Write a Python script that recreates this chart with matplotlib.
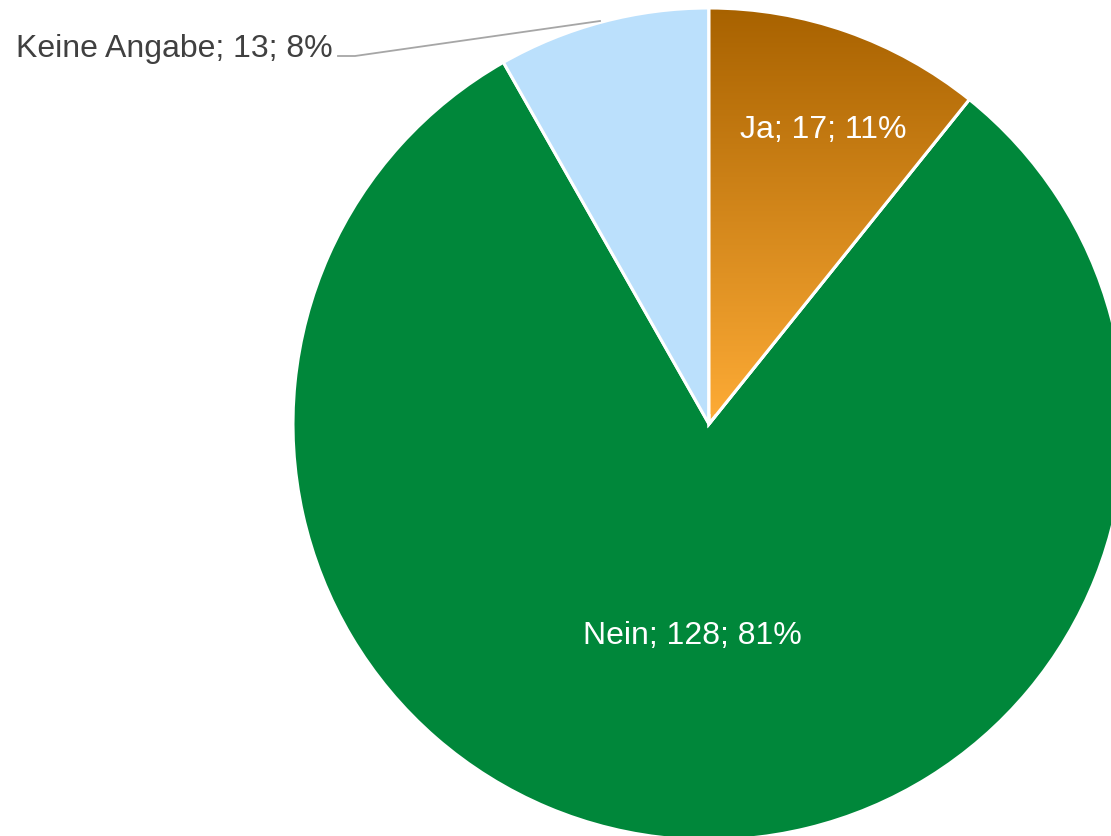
import numpy as np
import matplotlib.pyplot as plt
from matplotlib.colors import LinearSegmentedColormap

labels = ["Ja", "Nein", "Keine Angabe"]
counts = [17, 128, 13]
colors = ["#B06A10", "#00873A", "#BBE0FC"]

total = sum(counts)
texts = [f"{l}; {c}; {round(100 * c / total)}%" for l, c in zip(labels, counts)]

plt.rcParams["font.family"] = ["Liberation Sans", "DejaVu Sans"]

fig = plt.figure(figsize=(11.11, 8.37), dpi=100)
ax = fig.add_axes([0, 0, 1, 1])

cx, cy, r = 709, 412, 416
wedges, _ = ax.pie(counts, colors=colors, startangle=90, counterclock=False,
                   center=(cx, cy), radius=r, frame=True,
                   wedgeprops=dict(edgecolor="white", linewidth=2.2))
ax.set_xlim(0, 1111)
ax.set_ylim(0, 837)
ax.set_aspect("equal")
ax.axis("off")

# vertical gradient fill for the "Ja" slice
grad = LinearSegmentedColormap.from_list("ja", ["#FCAA35", "#A86200"])
g = np.linspace(0, 1, 256).reshape(-1, 1)
img = ax.imshow(g, cmap=grad, origin="lower", aspect="auto",
                extent=(cx, cx + r, cy + 10, cy + r), zorder=wedges[0].get_zorder() + 0.1)
img.set_clip_path(wedges[0])
wedges[0].set_facecolor("#FCAA35")
wedges[0].set_zorder(img.get_zorder() - 0.05)
edge = ax.add_patch(plt.matplotlib.patches.Wedge(
    wedges[0].center, wedges[0].r, wedges[0].theta1, wedges[0].theta2,
    facecolor="none", edgecolor="white", linewidth=2.2, zorder=img.get_zorder() + 0.1))

ax.text(823, 837 - 130, texts[0], color="white", fontsize=23,
        ha="center", va="center", zorder=5)
ax.text(692, 837 - 636, texts[1], color="white", fontsize=23,
        ha="center", va="center", zorder=5)
ax.text(16, 837 - 49, texts[2], color="#404040", fontsize=23,
        ha="left", va="center", zorder=5)
ax.plot([338, 355, 600], [837 - 57, 837 - 57, 837 - 22], color="#A6A6A6",
        linewidth=1.3, zorder=5)

fig.savefig("out.png", dpi=100)
